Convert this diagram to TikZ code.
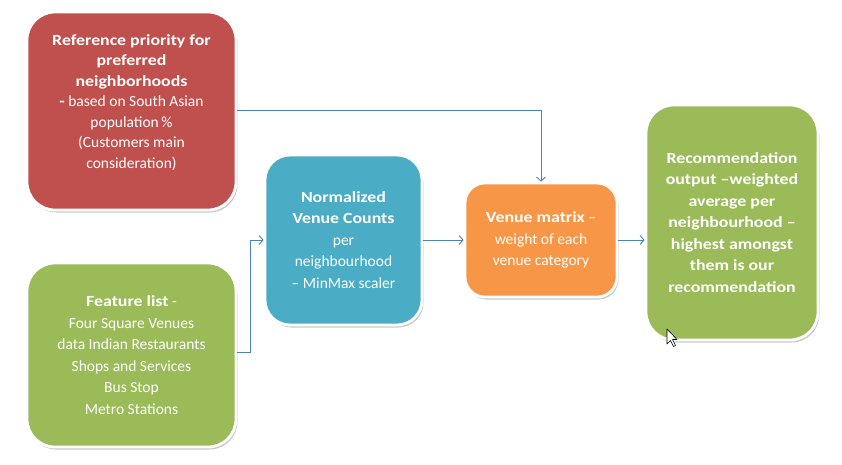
\documentclass[tikz,border=0pt]{standalone}
\usepackage{fontspec}
\setmainfont{Carlito}[BoldFeatures={FakeStretch=1.15}]
\usetikzlibrary{arrows.meta,shadows}
\definecolor{cred}{HTML}{C0504D}
\definecolor{cgreen}{HTML}{9BBB59}
\definecolor{cblue}{HTML}{4BACC6}
\definecolor{corange}{HTML}{F79646}
\definecolor{cline}{HTML}{4F81BD}
\tikzset{
  card/.style={rectangle, draw=white, line width=2.8pt, text=white, align=center,
    inner sep=0pt, font=\fontsize{15.5}{21.5}\selectfont,
    drop shadow={shadow xshift=1.5pt, shadow yshift=-2.5pt, opacity=0.35, fill=black!60}},
  link/.style={draw=cline, line width=0.9pt, -{Straight Barb[length=4pt,width=9pt,line width=0.9pt]}},
}
\begin{document}
\begin{tikzpicture}[x=1pt,y=-1pt]
\useasboundingbox (0,0) rectangle (842,464);
\fill[white] (0,0) rectangle (842,464);
\node[card, fill=cred, rounded corners=28pt, minimum width=209pt, minimum height=198pt,
  font=\fontsize{15.5}{20.5}\selectfont] (ref) at (131.5,111)
  {\textbf{Reference priority for}\\\textbf{preferred}\\\textbf{neighborhoods}\\\textbf{-} based on South Asian\\population\,\%\\(Customers main\\consideration)\\[-1pt]};
\node[card, fill=cgreen, rounded corners=28pt, minimum width=209pt, minimum height=184pt] (feat) at (131.5,355)
  {\textbf{Feature list} -\\Four Square Venues\\data Indian Restaurants\\Shops and Services\\Bus Stop\\Metro Stations};
\node[card, fill=cblue, rounded corners=25pt, minimum width=157pt, minimum height=170pt] (norm) at (343.5,240)
  {\textbf{Normalized}\\\textbf{Venue Counts}\\per\\neighbourhood\\– MinMax scaler};
\node[card, fill=corange, rounded corners=20pt, minimum width=152pt, minimum height=114pt] (mat) at (541,240)
  {\textbf{Venue matrix} –\\weight of each\\venue category};
\node[card, fill=cgreen, rounded corners=28pt, minimum width=172pt, minimum height=235pt] (rec) at (732,222.5)
  {\textbf{Recommendation}\\\textbf{output –weighted}\\\textbf{average per}\\\textbf{neighbourhood –}\\\textbf{highest amongst}\\\textbf{them is our}\\\textbf{recommendation}};
\coordinate (bend) at (250,352);
\draw[link] (ref.east |- 0,110) -| (mat.north);
\draw[link] (feat.east |- bend) -- (bend) |- (norm.west);
\draw[link] (norm.east) -- (mat.west);
\draw[link] (mat.east) -- (rec.west |- mat.east);
\draw[fill=white, draw=black, line width=0.6pt, line join=round]
  (667,329) -- (667,344) -- (670.5,340.5) -- (673.5,346.5) -- (675.5,345.5) -- (672.5,339.5) -- (677,339.5) -- cycle;
\end{tikzpicture}
\end{document}
